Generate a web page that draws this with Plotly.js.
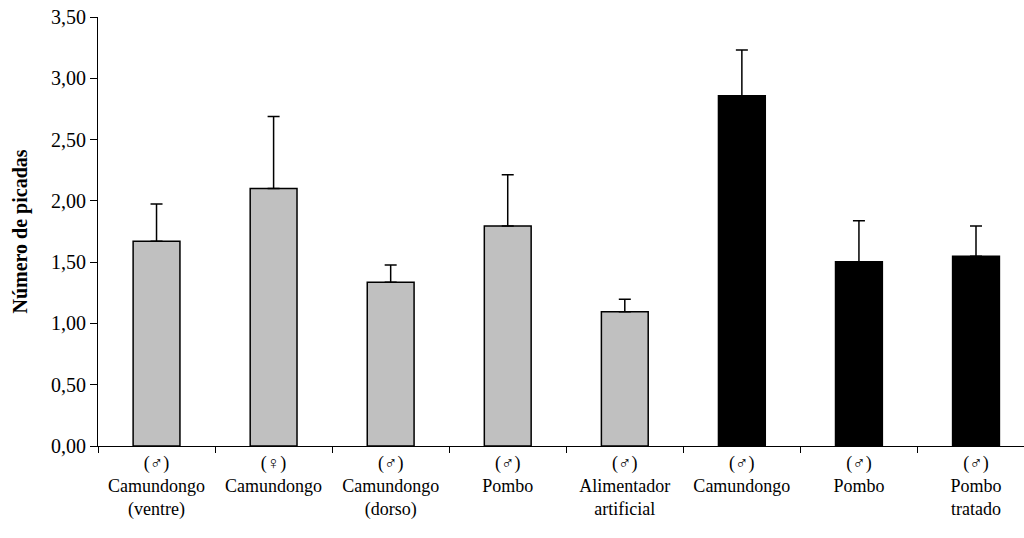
<!DOCTYPE html>
<html>
<head>
<meta charset="utf-8">
<script src="https://cdn.plot.ly/plotly-3.0.1.min.js"></script>
<style>html,body{margin:0;padding:0;background:#fff;}#chart{width:1024px;height:538px;}</style>
</head>
<body>
<div id="chart"></div>
<script>
const categories = [
  "(♂)<br>Camundongo<br>(ventre)",
  "(♀)<br>Camundongo",
  "(♂)<br>Camundongo<br>(dorso)",
  "(♂)<br>Pombo",
  "(♂)<br>Alimentador<br>artificial",
  "(♂)<br>Camundongo",
  "(♂)<br>Pombo",
  "(♂)<br>Pombo<br>tratado"
];
const means  = [1.67, 2.10, 1.335, 1.795, 1.096, 2.858, 1.504, 1.548];
const errors = [0.305, 0.588, 0.142, 0.419, 0.101, 0.373, 0.334, 0.247];
const groups = ["A", "A", "A", "A", "A", "B", "B", "B"];
const yTicks = [0, 0.5, 1, 1.5, 2, 2.5, 3, 3.5];
const yTickLabels = ["0,00", "0,50", "1,00", "1,50", "2,00", "2,50", "3,00", "3,50"];

const groupColor = {A: "#c0c0c0", B: "#000000"};
const xIdx = categories.map((_, i) => i);

const trace = {
  type: "bar",
  x: xIdx,
  y: means,
  width: 0.4,
  marker: {
    color: groups.map(g => groupColor[g]),
    line: {color: "#000", width: 1.5}
  },
  error_y: {
    type: "data",
    symmetric: false,
    array: errors,
    arrayminus: errors.map(() => 0),
    color: "#000",
    thickness: 1.5,
    width: 6
  },
  hoverinfo: "skip"
};

const font = "Liberation Serif";
const layout = {
  width: 1024,
  height: 538,
  margin: {l: 98, r: 0, t: 17, b: 92, pad: 0},
  paper_bgcolor: "#fff",
  plot_bgcolor: "#fff",
  showlegend: false,
  font: {family: font, color: "#000"},
  xaxis: {
    range: [-0.5, 7.41],
    tickmode: "array",
    tickvals: xIdx,
    ticktext: categories,
    ticks: "",
    tickfont: {family: font, size: 18, color: "#000"},
    showline: true,
    linecolor: "#000",
    linewidth: 1,
    showgrid: false,
    zeroline: false,
    fixedrange: true,
    automargin: false,
    minor: {tickmode: "linear", tick0: -0.5, dtick: 1, ticks: "outside", ticklen: 6, tickcolor: "#000", tickwidth: 1, showgrid: false}
  },
  yaxis: {
    range: [0, 3.5],
    tickmode: "array",
    tickvals: yTicks,
    ticktext: yTickLabels,
    ticks: "outside",
    ticklen: 7,
    tickcolor: "#000",
    tickwidth: 1,
    tickfont: {family: font, size: 20, color: "#000"},
    showline: true,
    linecolor: "#000",
    linewidth: 1,
    showgrid: false,
    zeroline: false,
    fixedrange: true,
    automargin: false,
    title: {text: "<b>Número de picadas</b>", font: {family: font, size: 20, color: "#000"}, standoff: 18}
  }
};

Plotly.newPlot("chart", [trace], layout, {displayModeBar: false, staticPlot: true});
</script>
</body>
</html>
